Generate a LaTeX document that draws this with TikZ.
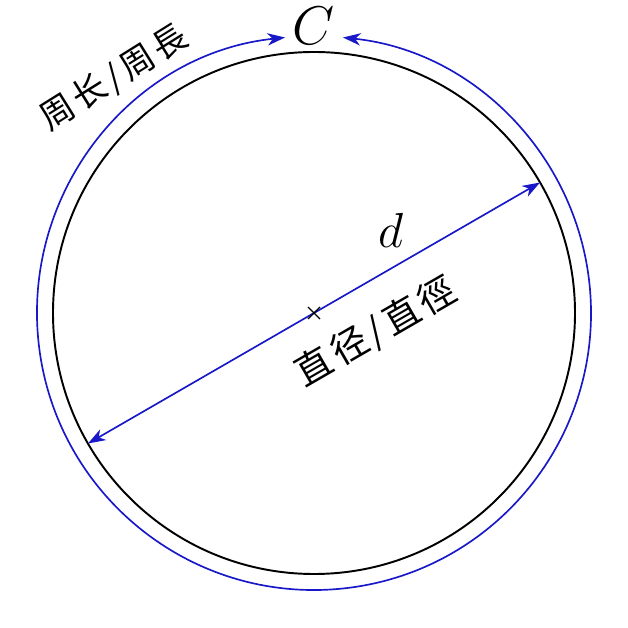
\RequirePackage{fix-cm}
\documentclass[tikz,border=0pt]{standalone}
\usepackage{fontspec}
\usepackage{tikz}
\usetikzlibrary{arrows.meta}
\newfontfamily\cjk{Noto Sans CJK SC}[LetterSpace=12]
\definecolor{arcblue}{HTML}{1818C8}

\begin{document}
\begin{tikzpicture}[x=0.02cm, y=0.02cm, >={Stealth[length=10pt, width=7pt, inset=3pt]}]

\useasboundingbox (-314,-315) rectangle (314,313);

\tikzstyle{every node}=[inner sep=0pt, text=black]
\coordinate (o) at (0,0);
\coordinate (dia1) at (30:261);
\coordinate (dia2) at (210:261);
\coordinate (per1) at (96:277);
\coordinate (per2) at (84:277);

\draw [line width=1.1pt] (o) circle [radius=261];
\draw [draw=arcblue, line width=0.95pt, <->] (per1) arc [start angle=96, end angle=444, radius=277];
\draw [draw=arcblue, line width=0.95pt, <->] (dia2) -- (dia1);
\draw [line width=0.7pt] (o) ++(-6,-6) -- ++(12,12) (o) ++(-6,6) -- ++(12,-12);

\draw    (0,287)     node (circ) {\fontsize{31}{31}\selectfont $C$}
         (77,83)     node (diam) {\fontsize{28}{28}\selectfont $d$}
         (62,-19)    node [rotate=30] (dialbl) {\fontsize{21}{21}\selectfont\cjk 直径/直徑}
         (-200,235)  node [rotate=32] (perlbl) {\fontsize{19.5}{19.5}\selectfont\cjk 周长/周長};

\end{tikzpicture}
\end{document}
